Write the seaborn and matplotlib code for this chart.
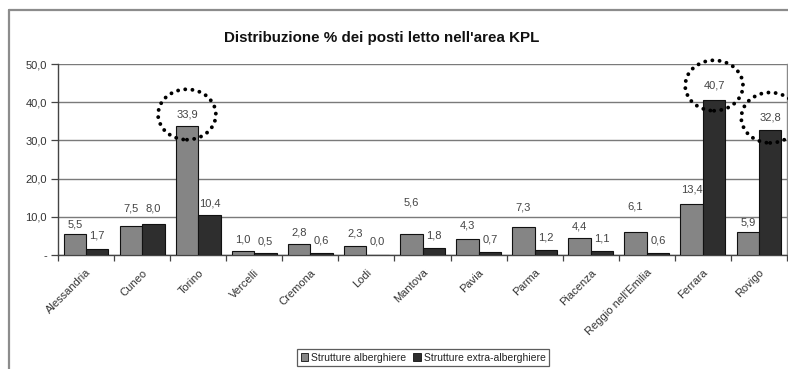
import matplotlib
matplotlib.use("Agg")
import matplotlib.pyplot as plt
from matplotlib.patches import Ellipse, Rectangle
from matplotlib.lines import Line2D
import seaborn as sns
import pandas as pd

# Province of the KPL area and share (%) of bed places by type of structure
province = ["Alessandria", "Cuneo", "Torino", "Vercelli", "Cremona", "Lodi",
            "Mantova", "Pavia", "Parma", "Piacenza", "Reggio nell'Emilia",
            "Ferrara", "Rovigo"]
alberghiere = [5.5, 7.5, 33.9, 1.0, 2.8, 2.3, 5.6, 4.3, 7.3, 4.4, 6.1, 13.4, 5.9]
extra_alberghiere = [1.7, 8.0, 10.4, 0.5, 0.6, 0.0, 1.8, 0.7, 1.2, 1.1, 0.6, 40.7, 32.8]
serie = ["Strutture alberghiere", "Strutture extra-alberghiere"]
y_ticks = [0, 10, 20, 30, 40, 50]
titolo = "Distribuzione % dei posti letto nell'area KPL"

# vertical offset (pixels) of each value label above its bar
offset_alb = [9, 18, 11, 12, 12, 13, 31, 13, 20, 12, 25, 14, 10]
offset_extra = [13, 16, 12, 12, 12, 13, 13, 13, 13, 12, 12, 14, 12]
# bars whose label is circled: (province, series index)
evidenziati = [("Torino", 0), ("Ferrara", 1), ("Rovigo", 1)]

df = pd.DataFrame({
    "Provincia": province * 2,
    "Valore": alberghiere + extra_alberghiere,
    "Tipo": [serie[0]] * len(province) + [serie[1]] * len(province),
})

sns.set_style("white")
plt.rcParams["font.family"] = ["Liberation Sans", "DejaVu Sans"]

W, H = 788, 369
fig = plt.figure(figsize=(W / 100, H / 100), dpi=100)
fig.patch.set_facecolor("white")

# outer chart frame (left and top edges)
fig.add_artist(Line2D([9 / W, 9 / W], [0, 1 - 10 / H], transform=fig.transFigure,
                      color="#8c8c8c", lw=1.6))
fig.add_artist(Line2D([9 / W, 1], [1 - 10 / H, 1 - 10 / H], transform=fig.transFigure,
                      color="#8c8c8c", lw=1.6))

ax = fig.add_axes([58 / W, 114 / H, (787 - 58) / W, (255 - 64) / H])
colori = ["#858585", "#2e2e2e"]
sns.barplot(data=df, x="Provincia", y="Valore", hue="Tipo", palette=colori,
            edgecolor="#111111", linewidth=0.8, width=0.8, ax=ax, legend=False,
            zorder=3)

ax.set_xlim(-0.5, len(province) - 0.5)
ax.set_ylim(0, 50)
ax.set_yticks(y_ticks)
ax.set_yticklabels([("%.1f" % v).replace(".", ",") if v else "-" for v in y_ticks],
                   fontsize=8, color="#333333")
ax.yaxis.grid(True, color="#7a7a7a", lw=1.0, zorder=0)
ax.xaxis.grid(False)
ax.set_axisbelow(True)
ax.tick_params(axis="y", length=5, width=0.9, color="#444444", pad=3, left=True)

# category labels at group centres, tick marks at group boundaries
ax.set_xticks(range(len(province)))
ax.set_xticklabels(province, rotation=45, ha="right", rotation_mode="anchor",
                   fontsize=8, color="#333333")
ax.tick_params(axis="x", which="major", length=0, pad=9)
ax.set_xticks([i - 0.5 for i in range(len(province) + 1)], minor=True)
ax.tick_params(axis="x", which="minor", length=4, width=0.9, color="#444444",
               bottom=True)
ax.set_xlabel("")
ax.set_ylabel("")

for side in ["left", "bottom"]:
    ax.spines[side].set_color("#444444")
    ax.spines[side].set_linewidth(1.0)
ax.spines["right"].set_color("#8a8a8a")
ax.spines["right"].set_linewidth(1.0)
ax.spines["top"].set_visible(False)

# value labels
label_pos = {}
for s, (vals, offs) in enumerate([(alberghiere, offset_alb),
                                  (extra_alberghiere, offset_extra)]):
    cont = ax.containers[s]
    for i, (bar, v, o) in enumerate(zip(cont, vals, offs)):
        xc = bar.get_x() + bar.get_width() / 2
        ax.annotate(("%.1f" % v).replace(".", ","), (xc, v), xytext=(0, o),
                    textcoords="offset pixels", ha="center", va="center",
                    fontsize=8, color="#444444", zorder=5)
        label_pos[(province[i], s)] = (xc, v, o)

# dotted circles around the highlighted labels
px_per_unit = ax.get_window_extent().height / 50
for prov, s in evidenziati:
    xc, v, o = label_pos[(prov, s)]
    yc = v + o / px_per_unit
    ax.add_patch(Ellipse((xc, yc), width=1.03, height=13.2, fill=False,
                         edgecolor="black", lw=2.8, linestyle=(0, (0.01, 1.85)),
                         capstyle="round", clip_on=False, zorder=6))

ax.set_title(titolo, fontsize=10.9, fontweight="bold", color="#111111",
             x=(381.5 - 58) / (787 - 58), y=1.0, pad=16)

# legend
handles = [Rectangle((0, 0), 1, 1, facecolor=c, edgecolor="#111111", lw=0.6)
           for c in colori]
leg = fig.legend(handles, serie, loc="upper left",
                 bbox_to_anchor=(297 / W, 1 - 349 / H), ncol=2, fontsize=7.5,
                 frameon=True, fancybox=False, edgecolor="#333333",
                 handlelength=0.7, handleheight=0.7, handletextpad=0.3,
                 columnspacing=0.7, borderpad=0.35, borderaxespad=0)
leg.get_frame().set_linewidth(0.9)
for t in leg.get_texts():
    t.set_color("#222222")

fig.savefig("out.png", dpi=100, facecolor="white")
